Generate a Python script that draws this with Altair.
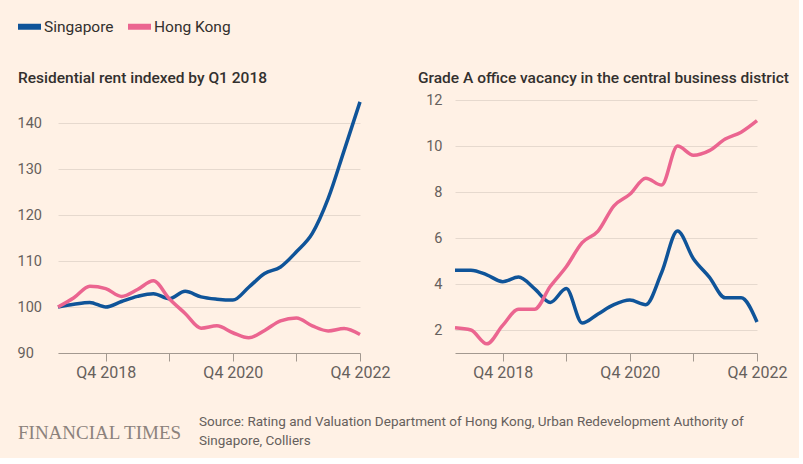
import altair as alt
import pandas as pd

# ---- data ----
quarters = [f"Q{q} {y}" for y in range(2018, 2023) for q in range(1, 5)]
series_names = ["Singapore", "Hong Kong"]

rent_singapore = [100, 100.6, 101.0, 100.0, 101.2, 102.3, 102.9, 101.8, 103.4, 102.2,
                  101.7, 101.5, 104.3, 107.3, 108.7, 112.0, 116.0, 123.6, 134.0, 144.6]
rent_hongkong = [100, 102.0, 104.5, 104.0, 102.3, 103.8, 105.7, 101.8, 98.6, 95.4,
                 95.9, 94.4, 93.3, 94.9, 97.0, 97.6, 95.9, 94.8, 95.3, 94.0]

vac_singapore = [4.6, 4.6, 4.4, 4.1, 4.3, 3.8, 3.2, 3.8, 2.3, 2.7,
                 3.1, 3.3, 3.1, 4.5, 6.3, 5.1, 4.3, 3.4, 3.4, 2.35]
vac_hongkong = [2.1, 2.0, 1.4, 2.2, 2.9, 2.9, 3.9, 4.75, 5.8, 6.3,
                7.4, 7.9, 8.6, 8.3, 10.0, 9.6, 9.8, 10.3, 10.6, 11.1]

x_tick_quarters = ["Q4 2018", "Q4 2019", "Q4 2020", "Q4 2021", "Q4 2022"]
x_label_quarters = ["Q4 2018", "Q4 2020", "Q4 2022"]

rent_ticks = [90, 100, 110, 120, 130, 140]
vac_ticks = [2, 4, 6, 8, 10, 12]

left_title = "Residential rent indexed by Q1 2018"
right_title = "Grade A office vacancy in the central business district"
source_lines = ["Source: Rating and Valuation Department of Hong Kong, Urban Redevelopment Authority of",
                "Singapore, Colliers"]
brand = "FINANCIAL TIMES"

# ---- styling ----
BG = "#FFF1E5"
BLUE = "#0F5499"
PINK = "#EB6590"
TEXT = "#33302E"
MUTED = "#66605C"
GRID = "#E6D9CE"
AXIS = "#A39990"
FONT = "Roboto"


def frame(names, a, b):
    rows = []
    for name, vals in zip(names, [a, b]):
        for i, v in enumerate(vals):
            rows.append({"i": i, "quarter": quarters[i], "series": name, "value": v})
    return pd.DataFrame(rows)


rent_df = frame(series_names, rent_singapore, rent_hongkong)
vac_df = frame(series_names, vac_singapore, vac_hongkong)

tick_idx = [quarters.index(q) for q in x_tick_quarters]
label_map = {quarters.index(q): q for q in x_label_quarters}
label_expr = " : ".join(f"datum.value == {k} ? '{v}'" for k, v in label_map.items()) + " : ''"

W, H = 302, 253

color = alt.Color(
    "series:N",
    scale=alt.Scale(domain=series_names, range=[BLUE, PINK]),
    legend=alt.Legend(
        orient="none", legendX=-43, legendY=-88, direction="horizontal", title=None,
        symbolType="stroke", symbolStrokeWidth=6, symbolSize=529,
        labelFontSize=15.5, labelColor=TEXT, labelFont=FONT, labelOffset=0,
        columnPadding=2, padding=0,
    ),
)

x_enc = alt.X(
    "i:Q",
    scale=alt.Scale(domain=[0, len(quarters) - 1], nice=False, zero=False),
    axis=alt.Axis(
        values=tick_idx, labelExpr=label_expr, title=None, grid=False,
        tickSize=8, tickColor=AXIS, domainColor=AXIS, labelPadding=3,
        labelFontSize=16, labelColor=MUTED, labelFont=FONT, labelFlush=False,
    ),
)


def panel(df, ticks, domain, title, label_align, label_pad, title_dx, extra_layers):
    lines = alt.Chart(df).mark_line(interpolate="monotone", strokeWidth=3.5).encode(
        x=x_enc,
        y=alt.Y(
            "value:Q",
            scale=alt.Scale(domain=domain, nice=False, zero=False),
            axis=alt.Axis(
                values=ticks, title=None, grid=True, gridColor=GRID, domain=False,
                ticks=False, labelAlign=label_align, labelPadding=label_pad,
                labelFontSize=14.5, labelColor=MUTED, labelFont=FONT,
            ),
        ),
        color=color,
        order=alt.Order("i:Q"),
    )
    ttl = alt.Chart(pd.DataFrame({"t": [title]})).mark_text(
        align="left", baseline="middle", font=FONT, fontSize=15.5, fontWeight=500, color=TEXT
    ).encode(x=alt.value(title_dx), y=alt.value(-22), text="t:N")
    return alt.layer(lines, ttl, *extra_layers).properties(width=W, height=H)


brand_layer = alt.Chart(pd.DataFrame({"t": [brand]})).mark_text(
    align="left", baseline="middle", font="Liberation Serif", fontSize=19, color="#8C827C"
).encode(x=alt.value(-40), y=alt.value(333), text="t:N")

source_layer = alt.Chart(pd.DataFrame({"t": ["\n".join(source_lines)]})).mark_text(
    align="left", baseline="top", font=FONT, fontSize=13.5, color=MUTED,
    lineBreak="\n", lineHeight=19,
).encode(x=alt.value(141), y=alt.value(315), text="t:N")

left = panel(rent_df, rent_ticks, [90, 145], left_title, "left", 41, -40, [brand_layer, source_layer])
right = panel(vac_df, vac_ticks, [1, 12], right_title, "right", 13, -37, [])

chart = alt.hconcat(left, right, spacing=95, bounds="flush").resolve_scale(
    color="shared", y="independent"
).properties(
    background=BG, padding={"left": 15, "top": 12, "right": 10, "bottom": 10}
).configure_view(stroke=None)

chart.save("out.html", embed_options={"renderer": "svg", "actions": False})
